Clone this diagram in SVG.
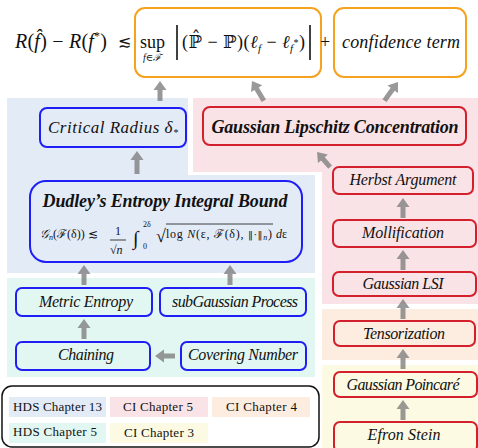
<svg xmlns="http://www.w3.org/2000/svg" width="478" height="448" viewBox="0 0 478 448">
<style>
text{font-family:"Liberation Serif","DejaVu Serif",serif;fill:#111}
.it{font-style:italic}
.bi{font-style:italic;font-weight:bold}
.nb{fill:none;stroke:#1f1ff5;stroke-width:2}
.nr{fill:none;stroke:#d3202c;stroke-width:2}
.no{fill:#fff;stroke:#f5a31f;stroke-width:2}
.arr{fill:#808080;fill-opacity:0.8}
.lbl{font-size:16px;font-style:italic;text-anchor:middle}
.leg{font-size:13px}
</style>
<defs>
<path id="a20" d="M0,0 L6.5,9 L2.5,9 L2.5,20 L-2.5,20 L-2.5,9 L-6.5,9 Z"/>
<path id="a23" d="M0,0 L6.5,9 L2.5,9 L2.5,23 L-2.5,23 L-2.5,9 L-6.5,9 Z"/>
</defs>
<g id="regions">
<path fill="#e3ebf7" d="M7,98 H188 V175 H315 V273 H7 Z"/>
<path fill="#fae3e6" d="M193,98 H478 V304 H322 V172 H193 Z"/>
<rect fill="#fcede0" x="322" y="309" width="156" height="51"/>
<rect fill="#fcfae2" x="322" y="365" width="156" height="83"/>
<rect fill="#e2f7f1" x="7" y="278" width="308" height="99"/>
</g>
<g id="formula">
<text x="15" y="48" font-size="20" textLength="92"><tspan class="it">R</tspan>(<tspan class="it">f̂</tspan>) − <tspan class="it">R</tspan>(<tspan class="it">f</tspan><tspan font-size="12" dy="-8">*</tspan><tspan dy="8">)</tspan></text>
<text x="118" y="47" font-size="16" font-family="DejaVu Sans">≲</text>
</g>
<g id="box-sup">
<rect class="no" x="135" y="8" width="186" height="69" rx="10"/>
<text x="140" y="48" font-size="18">sup</text>
<text x="143" y="61" font-size="10" class="it">f∈ℱ</text>
<line x1="177" y1="25" x2="177" y2="60" stroke="#111" stroke-width="1.6"/>
<line x1="310" y1="25" x2="310" y2="60" stroke="#111" stroke-width="1.6"/>
<text x="182" y="48" font-size="18" textLength="123">(ℙ̂ − ℙ)(<tspan class="it">ℓ</tspan><tspan font-size="11" dy="4" class="it">f</tspan><tspan dy="-4"> − </tspan><tspan class="it">ℓ</tspan><tspan font-size="11" dy="4" class="it">f</tspan><tspan font-size="10" dy="-6">*</tspan><tspan dy="2">)</tspan></text>
</g>
<text x="325" y="48" font-size="18" text-anchor="middle">+</text>
<g id="box-conf">
<rect class="no" x="334" y="8" width="132" height="69" rx="10"/>
<text x="342" y="48" font-size="18" class="it" textLength="118">confidence term</text>
</g>
<g id="critical">
<rect class="nb" x="40" y="108" width="146" height="39" rx="7"/>
<text x="113" y="133" font-size="17" class="it" text-anchor="middle" textLength="130">Critical Radius δ<tspan font-size="10" dy="3">*</tspan></text>
</g>
<g id="glc">
<rect class="nr" x="203" y="107" width="263" height="38" rx="7"/>
<text x="335" y="133" font-size="18" class="bi" text-anchor="middle" textLength="247">Gaussian Lipschitz Concentration</text>
</g>
<g id="dudley">
<rect class="nb" x="30" y="181" width="272" height="81" rx="16"/>
<text x="165" y="207" font-size="18" class="bi" text-anchor="middle" textLength="245">Dudley’s Entropy Integral Bound</text>
<text x="40" y="238" font-size="12"><tspan class="it">𝒢</tspan><tspan font-size="8" dy="2" class="it">n</tspan><tspan dy="-2">(ℱ(δ)) ≲</tspan></text>
<text x="118" y="235" font-size="12" text-anchor="middle">1</text>
<line x1="110" y1="240" x2="126" y2="240" stroke="#111" stroke-width="0.8"/>
<text x="110" y="254" font-size="12">√<tspan class="it">n</tspan></text>
<text x="133" y="245" font-size="20">∫</text>
<text x="143" y="227" font-size="8">2δ</text>
<text x="143" y="249" font-size="8">0</text>
<text x="156" y="242" font-size="18">√</text>
<line x1="166" y1="224" x2="273" y2="224" stroke="#111" stroke-width="0.8"/>
<text x="166" y="238" font-size="12" textLength="106">log <tspan class="it">N</tspan>(ε, ℱ(δ), <tspan font-family="DejaVu Serif" font-size="10">‖·‖</tspan><tspan font-size="8" dy="2" class="it">n</tspan><tspan dy="-2">)</tspan></text>
<text x="276" y="238" font-size="12"><tspan class="it">d</tspan>ε</text>
</g>
<g id="metric">
<rect class="nb" x="16" y="288" width="136" height="28" rx="6"/>
<text x="86" y="307" class="lbl" textLength="94">Metric Entropy</text>
</g>
<g id="subg">
<rect class="nb" x="160" y="288" width="146" height="28" rx="6"/>
<text x="235" y="307" class="lbl" textLength="126">subGaussian Process</text>
</g>
<g id="chaining">
<rect class="nb" x="16" y="342" width="134" height="28" rx="6"/>
<text x="86" y="360" class="lbl" textLength="56">Chaining</text>
</g>
<g id="covering">
<rect class="nb" x="181" y="342" width="125" height="28" rx="6"/>
<text x="243" y="360" class="lbl" textLength="110">Covering Number</text>
</g>
<g id="herbst">
<rect class="nr" x="333" y="167" width="140" height="27" rx="6"/>
<text x="403" y="185" class="lbl" textLength="107">Herbst Argument</text>
</g>
<g id="mollification">
<rect class="nr" x="333" y="220" width="143" height="27" rx="6"/>
<text x="403" y="238" class="lbl" textLength="82">Mollification</text>
</g>
<g id="lsi">
<rect class="nr" x="333" y="272" width="143" height="24" rx="6"/>
<text x="403" y="289" class="lbl" textLength="81">Gaussian LSI</text>
</g>
<g id="tensorization">
<rect class="nr" x="334" y="321" width="141" height="25" rx="6"/>
<text x="404" y="339" class="lbl" textLength="82">Tensorization</text>
</g>
<g id="poincare">
<rect class="nr" x="334" y="372" width="143" height="25" rx="6"/>
<text x="403" y="390" class="lbl" textLength="113">Gaussian Poincaré</text>
</g>
<g id="efron">
<rect class="nr" x="334" y="422" width="143" height="30" rx="6"/>
<text x="404" y="440" class="lbl" textLength="73">Efron Stein</text>
</g>
<g id="connectors">
<use href="#a20" class="arr" transform="translate(160 81)"/>
<use href="#a23" class="arr" transform="translate(252 81) rotate(-31)"/>
<use href="#a23" class="arr" transform="translate(398 82) rotate(36)"/>
<use href="#a23" class="arr" transform="translate(137 151)"/>
<use href="#a20" class="arr" transform="translate(317 152) rotate(-41)"/>
<use href="#a20" class="arr" transform="translate(403 198)"/>
<use href="#a20" class="arr" transform="translate(403 250)"/>
<use href="#a20" class="arr" transform="translate(403 299)"/>
<use href="#a20" class="arr" transform="translate(403 349)"/>
<use href="#a20" class="arr" transform="translate(403 400)"/>
<use href="#a20" class="arr" transform="translate(84 265)"/>
<use href="#a20" class="arr" transform="translate(230 265)"/>
<use href="#a20" class="arr" transform="translate(84 319)"/>
<use href="#a20" class="arr" transform="translate(155 356) rotate(-90)"/>
</g>
<g id="legend">
<rect x="2" y="386" width="317" height="61" rx="10" fill="#fff" stroke="#111" stroke-width="1.5"/>
<rect x="9" y="397" width="97" height="20" fill="#e3ebf7"/>
<rect x="110" y="397" width="98" height="20" fill="#fae3e6"/>
<rect x="212" y="397" width="98" height="20" fill="#fcede0"/>
<rect x="9" y="423" width="97" height="20" fill="#e2f7f1"/>
<rect x="110" y="423" width="98" height="20" fill="#fcfae2"/>
<text x="13" y="411" class="leg" textLength="89">HDS Chapter 13</text>
<text x="123" y="411" class="leg" textLength="70">CI Chapter 5</text>
<text x="226" y="411" class="leg" textLength="71">CI Chapter 4</text>
<text x="13" y="436" class="leg" textLength="84">HDS Chapter 5</text>
<text x="124" y="437" class="leg" textLength="70">CI Chapter 3</text>
</g>
</svg>
